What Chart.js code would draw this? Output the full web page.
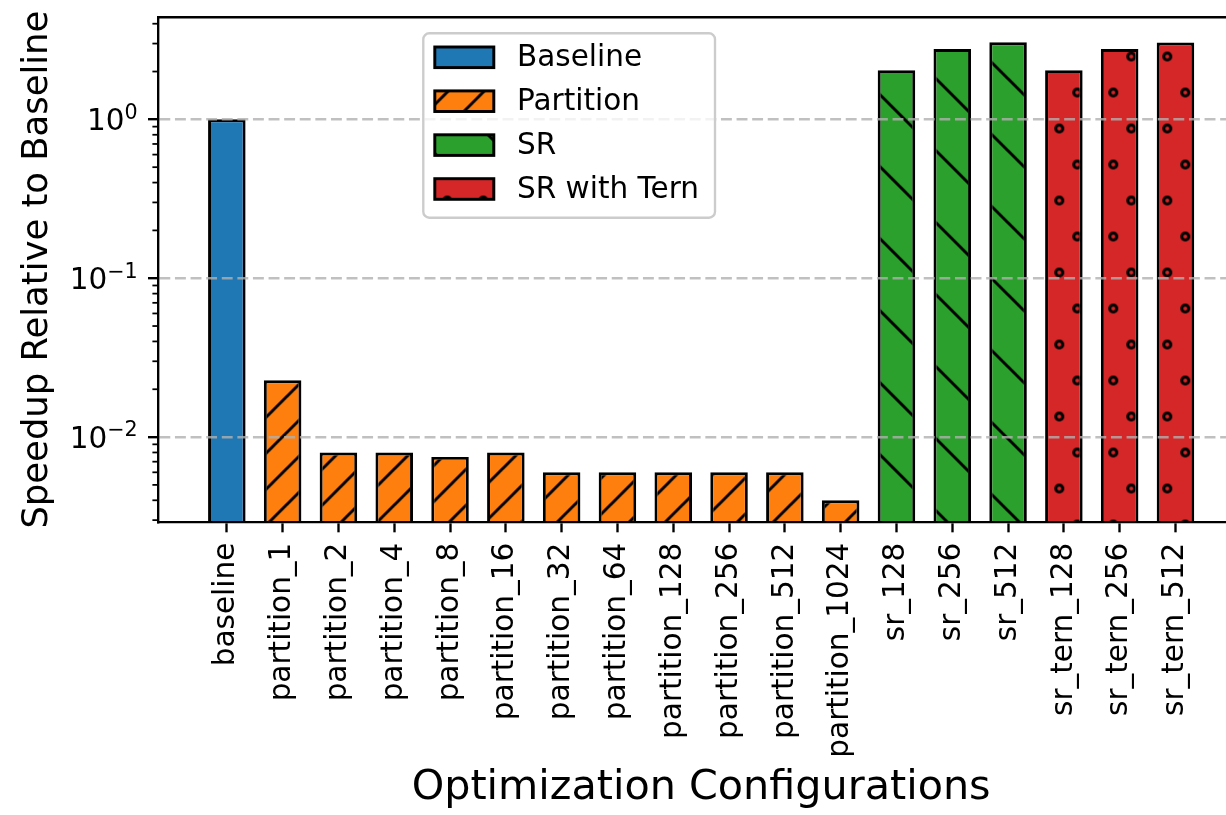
<!DOCTYPE html>
<html>
<head>
<meta charset="utf-8">
<script src="https://cdn.jsdelivr.net/npm/chart.js@4.4.1/dist/chart.umd.min.js"></script>
<style>
  html, body { margin: 0; padding: 0; background: #ffffff; overflow: hidden; }
  #wrap { width: 1262px; height: 815px; }
  canvas { display: block; }
</style>
</head>
<body>
<div id="wrap"><canvas id="chart" width="1262" height="815"></canvas></div>
<script>
// ---- data ----
const categories = [
  'baseline',
  'partition_1', 'partition_2', 'partition_4', 'partition_8', 'partition_16',
  'partition_32', 'partition_64', 'partition_128', 'partition_256', 'partition_512',
  'partition_1024',
  'sr_128', 'sr_256', 'sr_512',
  'sr_tern_128', 'sr_tern_256', 'sr_tern_512'
];
const seriesNames = ['Baseline', 'Partition', 'SR', 'SR with Tern'];
const baselineSpeedup = [1.0];
const partitionSpeedup = [0.0228, 0.008, 0.008, 0.0075, 0.008, 0.006, 0.006, 0.006, 0.006, 0.006, 0.004];
const srSpeedup = [2.04, 2.77, 3.06];
const srTernSpeedup = [2.04, 2.77, 3.05];
const yMajorTicks = [0.01, 0.1, 1];
const yMajorExponents = ['\u22122', '\u22121', '0'];   // drawn as 10^k

// ---- styling ----
const FONT = 'DejaVu Sans';
const PT = 2.95;               // one typographic point in pixels
const Y_MIN = 0.00292, Y_MAX = 4.39;

const canvas = document.getElementById('chart');
const ctx = canvas.getContext('2d');

function tile(w, h, paint) {
  const c = document.createElement('canvas');
  c.width = w; c.height = h;
  paint(c.getContext('2d'), w, h);
  return c;
}
function pattern(t, dx, dy) {
  const p = ctx.createPattern(t, 'repeat');
  p.setTransform(new DOMMatrix().translate(dx, dy));
  return p;
}

// forward hatch "/"
const slashTile = tile(36, 36, (g, w, h) => {
  g.fillStyle = '#ff7f0e'; g.fillRect(0, 0, w, h);
  g.strokeStyle = '#000'; g.lineWidth = PT;
  [0, 36, 72].forEach(c => { g.beginPath(); g.moveTo(c + 6, -6); g.lineTo(c - 42, 42); g.stroke(); });
});
// back hatch "\"
const backTile = tile(72, 72, (g, w, h) => {
  g.fillStyle = '#2ca02c'; g.fillRect(0, 0, w, h);
  g.strokeStyle = '#000'; g.lineWidth = PT;
  [-72, 0, 72].forEach(c => { g.beginPath(); g.moveTo(-6, c - 6); g.lineTo(78, c + 78); g.stroke(); });
});
// staggered small circles
const circleTile = tile(36, 72, (g, w, h) => {
  g.fillStyle = '#d62728'; g.fillRect(0, 0, w, h);
  g.strokeStyle = '#000'; g.lineWidth = 3;
  [[0, 0], [36, 0], [0, 72], [36, 72], [18, 36]].forEach(([cx, cy]) => {
    g.beginPath(); g.arc(cx, cy, 3.5, 0, Math.PI * 2); g.stroke();
  });
});

const fills = [
  '#1f77b4',
  pattern(slashTile, 35.3, 0),
  pattern(backTile, 0, 6.7),
  pattern(circleTile, 33.3, 20.5)
];

const isDecade = v => Math.abs(Math.log10(v) - Math.round(Math.log10(v))) < 1e-9;

// all log ticks (decades + 2..9 minors) inside the axis range
const yTickValues = [];
for (let e = -3; e <= 0; e++) {
  for (let m = 1; m <= 9; m++) {
    const v = m * Math.pow(10, e);
    if (v >= Y_MIN && v <= Y_MAX) yTickValues.push(v);
  }
}

const toPoints = (vals, start) => vals.map((v, i) => ({ x: start + i, y: v }));
const seriesValues = [baselineSpeedup, partitionSpeedup, srSpeedup, srTernSpeedup];
const seriesStart = [0, 1, 12, 15];

const datasets = seriesValues.map((vals, i) => ({
  label: seriesNames[i],
  data: toPoints(vals, seriesStart[i]),
  backgroundColor: fills[i],
  borderColor: '#000000',
  borderWidth: PT,
  grouped: false,
  categoryPercentage: 1,
  barPercentage: 0.6725
}));

const noEdgePadding = s => { s.paddingTop = 0; s.paddingBottom = 0; s.paddingLeft = 0; s.paddingRight = 0; };

// spines, minor ticks, power-of-ten labels and the legend box
const decorations = {
  id: 'decorations',
  afterDraw(chart) {
    const g = chart.ctx;
    const a = chart.chartArea;
    const yScale = chart.scales.y;
    g.save();
    // top and right spines
    g.strokeStyle = '#000'; g.lineWidth = 0.8 * PT;
    g.beginPath();
    g.moveTo(a.left - 1.2, a.top); g.lineTo(a.right + 1.2, a.top);
    g.moveTo(a.right, a.top); g.lineTo(a.right, a.bottom);
    g.stroke();
    // minor ticks on the log axis
    g.lineWidth = 0.6 * PT;
    yScale.ticks.forEach(t => {
      if (isDecade(t.value)) return;
      const py = yScale.getPixelForValue(t.value);
      g.beginPath(); g.moveTo(a.left - 2 * PT, py); g.lineTo(a.left, py); g.stroke();
    });
    // 10^k tick labels
    const labelRight = a.left - 7 * PT;
    const mainSize = 10 * PT, supSize = 7 * PT;
    g.fillStyle = '#000';
    g.textAlign = 'left';
    g.textBaseline = 'alphabetic';
    yMajorTicks.forEach((v, i) => {
      const py = yScale.getPixelForValue(v);
      const base = py + 0.36 * mainSize;
      g.font = `${supSize}px "${FONT}"`;
      const supW = g.measureText(yMajorExponents[i]).width;
      g.fillText(yMajorExponents[i], labelRight - supW, base - 11.3);
      g.font = `${mainSize}px "${FONT}"`;
      const mainW = g.measureText('10').width;
      g.fillText('10', labelRight - supW - mainW, base);
    });

    // legend
    const box = { x: 423.3, y: 33.3, w: 291.7, h: 184.4, r: 6 };
    g.beginPath();
    g.roundRect(box.x, box.y, box.w, box.h, box.r);
    g.fillStyle = 'rgba(255,255,255,0.8)';
    g.fill();
    g.strokeStyle = '#cccccc'; g.lineWidth = 0.8 * PT;
    g.stroke();
    g.font = `${10 * PT}px "${FONT}"`;
    g.textBaseline = 'middle';
    g.textAlign = 'left';
    chart.data.datasets.forEach((ds, i) => {
      const cy = box.y + 24 + i * 43.9;
      g.fillStyle = ds.backgroundColor;
      g.fillRect(434.8, cy - 10.3, 59, 20.6);
      g.strokeStyle = '#000'; g.lineWidth = PT;
      g.strokeRect(434.8, cy - 10.3, 59, 20.6);
      g.fillStyle = '#000';
      g.fillText(ds.label, 517, cy + 1);
    });
    g.restore();
  }
};

new Chart(ctx, {
  type: 'bar',
  data: { datasets },
  options: {
    responsive: false,
    animation: false,
    events: [],
    layout: { padding: { left: 0, top: 17.3, right: 18, bottom: 0 } },
    plugins: { legend: { display: false }, tooltip: { enabled: false }, title: { display: false } },
    scales: {
      x: {
        type: 'linear',
        offset: false,
        bounds: 'data',
        min: -1.228,
        max: 18.228,
        afterBuildTicks: s => { s.ticks = categories.map((_, i) => ({ value: i })); },
        afterFit: s => { s.height = 293; noEdgePadding(s); },
        ticks: {
          autoSkip: false,
          minRotation: 90,
          maxRotation: 90,
          padding: 3.5 * PT,
          color: '#000',
          font: { family: FONT, size: 10 * PT, lineHeight: 1 },
          callback: v => categories[v]
        },
        grid: {
          display: true,
          offset: false,
          drawOnChartArea: false,
          drawTicks: true,
          tickLength: 3.5 * PT,
          tickColor: '#000',
          tickWidth: 0.8 * PT,
          z: 1
        },
        border: { display: true, color: '#000', width: 0.8 * PT, z: 1 },
        title: {
          display: true,
          text: 'Optimization Configurations',
          color: '#000',
          font: { family: FONT, size: 14 * PT, lineHeight: 1 },
          padding: { top: 0, bottom: 6 }
        }
      },
      y: {
        type: 'logarithmic',
        min: Y_MIN,
        max: Y_MAX,
        afterBuildTicks: s => { s.ticks = yTickValues.map(v => ({ value: v, major: isDecade(v) })); },
        afterFit: s => { s.width = 158.3; noEdgePadding(s); },
        ticks: { display: false, autoSkip: false },
        grid: {
          display: true,
          drawOnChartArea: true,
          drawTicks: true,
          z: 1,
          lineWidth: 2.4,
          color: c => (c.tick && isDecade(c.tick.value)) ? 'rgba(176,176,176,0.8)' : 'rgba(0,0,0,0)',
          tickLength: 3.5 * PT,
          tickWidth: 0.8 * PT,
          tickColor: c => (c.tick && isDecade(c.tick.value)) ? '#000' : 'rgba(0,0,0,0)',
          tickBorderDash: []
        },
        border: { display: true, color: '#000', width: 0.8 * PT, dash: [10.9, 4.7], z: 1 },
        title: {
          display: true,
          text: 'Speedup Relative to Baseline',
          color: '#000',
          font: { family: FONT, size: 12 * PT, lineHeight: 1 },
          padding: { top: 20, bottom: 0 }
        }
      }
    }
  },
  plugins: [decorations]
});
</script>
</body>
</html>
